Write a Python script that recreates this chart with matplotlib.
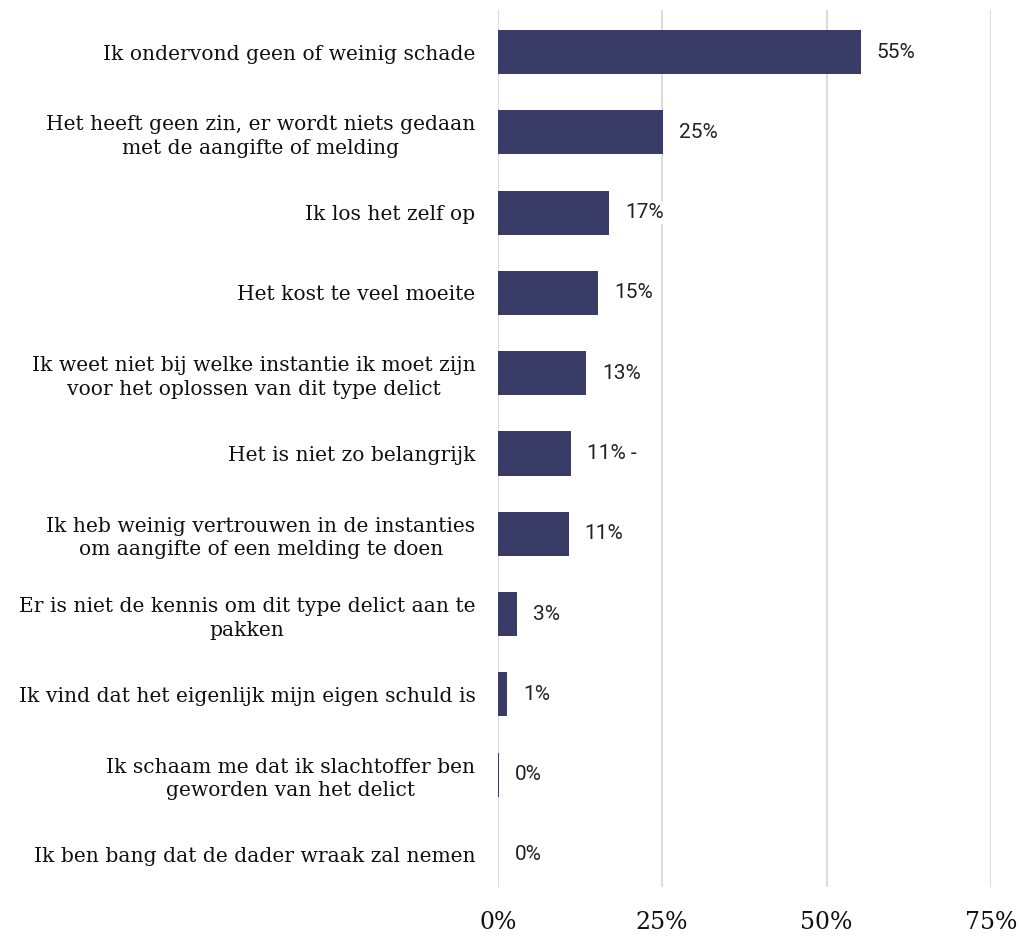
import numpy as np
import matplotlib
import matplotlib.pyplot as plt

matplotlib.rcParams["axes.unicode_minus"] = False

# data
categories = [
    "Ik ondervond geen of weinig schade",
    "Het heeft geen zin, er wordt niets gedaan\nmet de aangifte of melding",
    "Ik los het zelf op",
    "Het kost te veel moeite",
    "Ik weet niet bij welke instantie ik moet zijn\nvoor het oplossen van dit type delict",
    "Het is niet zo belangrijk",
    "Ik heb weinig vertrouwen in de instanties\nom aangifte of een melding te doen",
    "Er is niet de kennis om dit type delict aan te\npakken",
    "Ik vind dat het eigenlijk mijn eigen schuld is",
    "Ik schaam me dat ik slachtoffer ben\ngeworden van het delict",
    "Ik ben bang dat de dader wraak zal nemen",
]
values = [55.2, 25.2, 16.9, 15.3, 13.4, 11.1, 10.8, 3.0, 1.4, 0.2, 0.1]
value_labels = ["55%", "25%", "17%", "15%", "13%", "11% -", "11%", "3%", "1%", "0%", "0%"]
x_ticks = [0, 25, 50, 75]
x_ticklabels = ["0%", "25%", "50%", "75%"]

bar_color = "#383c66"

fig = plt.figure(figsize=(10.2, 9.4), dpi=100)
ax = fig.add_axes([0.488, 0.0564, 0.4835, 0.9326])

y = np.arange(len(categories))
ax.barh(y, values, height=0.55, color=bar_color, zorder=2)

# value labels
for yi, v, lab in zip(y, values, value_labels):
    ax.annotate(lab, (v, yi), xytext=(11.5, 0), textcoords="offset points",
                ha="left", va="center", fontsize=15, family="Roboto",
                color="#222222", zorder=3,
                bbox=dict(boxstyle="square,pad=0.1", fc="white", ec="none"))

ax.set_xlim(0, 75)
ax.set_ylim(10.4, -0.52)
ax.set_yticks(y)
ax.set_yticklabels(categories, family="DejaVu Serif", fontsize=14.6, color="#111111",
                   linespacing=1.3)
for t in ax.get_yticklabels():
    t.set_multialignment("center")
ax.set_xticks(x_ticks)
ax.set_xticklabels(x_ticklabels, family="DejaVu Serif", fontsize=17, color="#111111")
ax.tick_params(axis="both", length=0)
ax.tick_params(axis="x", pad=17)
ax.tick_params(axis="y", pad=16)

ax.grid(axis="x", color="#dcdcdc", linewidth=1.5, zorder=0)
ax.set_axisbelow(True)
for s in ax.spines.values():
    s.set_visible(False)

plt.savefig("out.png", dpi=100)
